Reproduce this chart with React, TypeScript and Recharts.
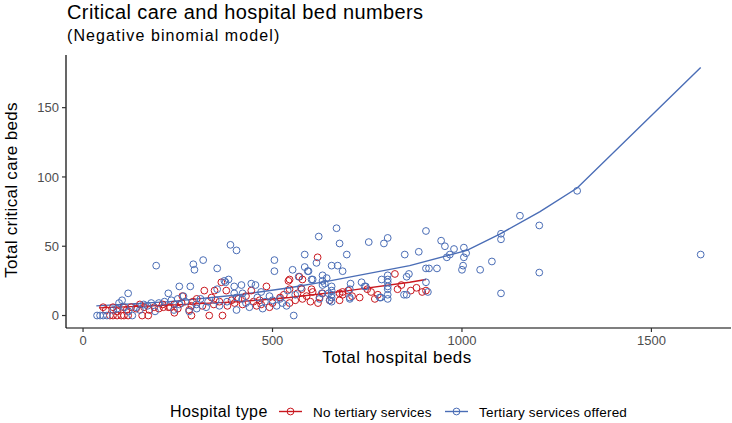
import { ComposedChart, Line, Scatter, XAxis, YAxis } from "recharts";

const RED = "#C9181F";
const BLUE = "#4A6DB6";
const FONT = "'Liberation Sans', Arial, sans-serif";

// [total hospital beds, total critical care beds]
const noTertiaryPoints: [number, number][] = [
  [365, 24], [484, 21], [542, 25], [579, 26], [619, 42], [545, 26], [685, 15], [730, 13], [778, 15],
  [823, 30], [865, 18], [905, 18], [347, 18], [320, 18], [378, 18], [339, 13], [262, 14], [241, 8],
  [280, 4], [241, 2], [286, 0], [333, 0], [368, 0], [444, 18], [466, 11], [381, 7], [315, 7],
  [421, 8], [458, 7], [492, 6], [392, 11], [71, 0], [79, 0], [90, 0], [101, 0], [108, 0], [119, 0],
  [156, 0], [172, 0], [53, 6], [79, 6], [106, 6], [127, 6], [161, 6], [188, 6], [212, 6], [225, 6],
  [571, 28], [606, 17], [632, 16], [677, 16], [685, 17], [579, 12], [624, 13], [651, 11], [677, 11],
  [545, 19], [545, 9], [566, 16], [577, 19], [603, 19], [286, 7], [60, 4], [90, 3], [115, 4],
  [140, 5], [150, 8], [175, 4], [200, 5], [210, 8], [230, 6], [250, 5], [260, 9], [290, 10],
  [300, 12], [345, 8], [360, 10], [400, 9], [410, 12], [430, 14], [450, 10], [470, 8], [500, 9],
  [520, 13], [530, 15], [560, 11], [590, 14], [600, 10], [620, 9], [700, 18], [710, 14], [760, 17],
  [830, 19], [880, 20], [895, 17], [840, 22], [750, 19], [770, 12],
];

const tertiaryPoints: [number, number][] = [
  [193, 36], [291, 37], [294, 33], [317, 40], [354, 34], [389, 51], [405, 47], [505, 40], [505, 32],
  [553, 33], [585, 44], [585, 35], [569, 28], [622, 57], [669, 63], [677, 52], [754, 53], [794, 52],
  [804, 56], [696, 44], [849, 44], [616, 38], [595, 32], [656, 36], [672, 36], [685, 32], [606, 26],
  [632, 25], [643, 27], [638, 23], [735, 24], [743, 21], [788, 26], [804, 29], [804, 26], [804, 24],
  [804, 21], [804, 19], [804, 15], [804, 12], [847, 15], [556, 0], [624, 12], [630, 16], [648, 16],
  [651, 11], [704, 12], [786, 13], [1304, 90], [1153, 72], [1204, 65], [1204, 31], [1103, 59],
  [1103, 55], [1103, 16], [1079, 39], [1048, 33], [1000, 33], [1003, 36], [1005, 42], [1011, 45],
  [1005, 49], [979, 48], [968, 44], [960, 42], [955, 50], [945, 54], [886, 46], [905, 61], [905, 34],
  [913, 34], [934, 34], [860, 30], [854, 28], [905, 24], [854, 15], [910, 17], [1630, 44],
  [593, 32], [603, 26], [632, 29], [632, 22], [656, 21], [656, 18], [656, 15], [656, 13], [656, 10],
  [706, 23], [704, 19], [746, 21], [783, 13], [704, 13], [254, 21], [283, 21], [384, 26], [376, 24],
  [418, 22], [444, 23], [455, 22], [373, 25], [354, 19], [399, 21], [399, 16], [421, 16], [405, 13],
  [492, 14], [500, 11], [526, 9], [537, 7], [233, 11], [254, 8], [299, 8], [325, 6], [360, 7],
  [405, 4], [439, 6], [474, 5], [511, 7], [265, 14], [37, 0], [45, 0], [53, 0], [63, 0], [130, 0],
  [103, 11], [119, 16], [95, 9], [225, 16], [80, 4], [110, 6], [140, 6], [160, 8], [180, 9],
  [200, 9], [215, 10], [150, 4], [120, 3], [90, 5], [170, 7], [250, 12], [270, 10], [310, 12],
  [330, 10], [350, 11], [420, 12], [460, 13], [480, 10], [520, 12], [560, 15], [575, 20], [540, 18],
  [470, 17], [430, 9], [380, 10], [300, 5], [280, 3], [240, 4], [190, 3],
];

// fitted values from the negative binomial model
const noTertiaryFitBeds = [42, 228, 413, 545, 700, 862, 905];
const noTertiaryFitValues = [5.5, 7.5, 10, 13, 18, 24, 26];
const tertiaryFitBeds = [35, 228, 413, 545, 651, 862, 1013, 1101, 1206, 1304, 1630];
const tertiaryFitValues = [7, 10, 15, 20, 25, 36, 47, 59, 75, 92, 179];

const xTicks = [0, 500, 1000, 1500];
const yTicks = [0, 50, 100, 150];

const toRows = (pts: [number, number][]) => pts.map(([x, y]) => ({ x, y }));
const noTertiary = toRows(noTertiaryPoints);
const tertiary = toRows(tertiaryPoints);
const noTertiaryFit = noTertiaryFitBeds.map((x, i) => ({ x, y: noTertiaryFitValues[i] }));
const tertiaryFit = tertiaryFitBeds.map((x, i) => ({ x, y: tertiaryFitValues[i] }));

const ring = (color: string) => (p: any) => (
  <circle cx={p.cx} cy={p.cy} r={3.4} fill="none" stroke={color} strokeWidth={1} />
);

const tickStyle = { fill: "#4D4D4D", fontSize: 13, fontFamily: FONT };

export default function App() {
  return (
    <div style={{ position: "absolute", left: 0, top: 0, width: 732, height: 423, background: "#fff" }}>
      <ComposedChart width={732} height={423} margin={{ top: 55, right: 1, bottom: 0, left: 0 }}>
        <XAxis
          type="number"
          dataKey="x"
          domain={[-45, 1710]}
          ticks={xTicks}
          allowDataOverflow
          height={95}
          stroke="#000"
          strokeWidth={1.2}
          tick={tickStyle}
          tickLine={{ stroke: "#333" }}
          tickSize={4}
          tickMargin={4}
        />
        <YAxis
          type="number"
          dataKey="y"
          domain={[-9, 188]}
          ticks={yTicks}
          allowDataOverflow
          width={66}
          stroke="#000"
          strokeWidth={1.2}
          tick={tickStyle}
          tickLine={{ stroke: "#333" }}
          tickSize={4}
          tickMargin={3}
        />
        <Scatter data={noTertiary} shape={ring(RED)} isAnimationActive={false} />
        <Scatter data={tertiary} shape={ring(BLUE)} isAnimationActive={false} />
        <Line data={noTertiaryFit} dataKey="y" stroke={RED} strokeWidth={1.4} dot={false} type="linear" isAnimationActive={false} />
        <Line data={tertiaryFit} dataKey="y" stroke={BLUE} strokeWidth={1.4} dot={false} type="linear" isAnimationActive={false} />
      </ComposedChart>
      <svg width={732} height={423} style={{ position: "absolute", left: 0, top: 0, pointerEvents: "none" }} fontFamily={FONT}>
        <text x={67} y={19} fontSize={20} letterSpacing={0.4} fill="#000">Critical care and hospital bed numbers</text>
        <text x={67} y={41} fontSize={16} letterSpacing={1.1} fill="#000">(Negative binomial model)</text>
        <text x={397} y={363} fontSize={17} letterSpacing={0.45} fill="#000" textAnchor="middle">Total hospital beds</text>
        <text transform="translate(17,190) rotate(-90)" fontSize={17} letterSpacing={0.3} fill="#000" textAnchor="middle">Total critical care beds</text>
        <text x={170} y={417} fontSize={16} letterSpacing={0.4} fill="#000">Hospital type</text>
        <line x1={279} x2={302} y1={411.5} y2={411.5} stroke={RED} strokeWidth={1.4} />
        <circle cx={290.5} cy={411.5} r={3.4} fill="none" stroke={RED} />
        <text x={313} y={416.5} fontSize={13.5} letterSpacing={0.15} fill="#000">No tertiary services</text>
        <line x1={445} x2={468} y1={411.5} y2={411.5} stroke={BLUE} strokeWidth={1.4} />
        <circle cx={456.5} cy={411.5} r={3.4} fill="none" stroke={BLUE} />
        <text x={479} y={416.5} fontSize={13.5} letterSpacing={0.2} fill="#000">Tertiary services offered</text>
      </svg>
    </div>
  );
}
